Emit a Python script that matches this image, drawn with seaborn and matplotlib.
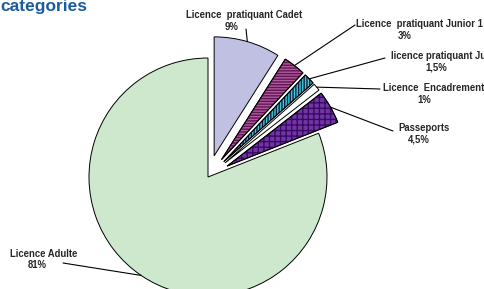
import numpy as np
import matplotlib
matplotlib.use("Agg")
import matplotlib.pyplot as plt
import seaborn as sns
from matplotlib.patches import Wedge

sns.set_theme(style="white")
plt.rcParams["font.family"] = ["Liberation Sans", "DejaVu Sans"]
plt.rcParams["hatch.linewidth"] = 1.0

# parts des licences (%)
categories = [
    "Licence  pratiquant Cadet",
    "Licence  pratiquant Junior 1",
    "licence pratiquant Junior 2",
    "Licence  Encadrement",
    "Passeports",
    "Licence Adulte",
]
pct_labels = ["9%", "3%", "1,5%", "1%", "4,5%", "81%"]
values = [9, 3, 1.5, 1, 4.5, 81]

face_colors = ["#c0c0e2", "#b4589c", "#3fcad8", "#ffffff", "#7434a8", "#cde8cd"]
hatches = [None, "------", "||||||", None, "+++", None]
hatch_colors = [None, "#5e1654", "#102040", None, "#360c5e", None]

# label layout in pixels (x, y from top)
name_left = [186, 356, 391, 383, 398, 10]
name_y = [15, 24, 56, 88, 128, 254]
pct_x = [232, 405, 436, 424, 419, 37]
line_end = [(246, 29), (355, 25), (385, 58), (380, 89), (393, 131), (63, 263)]

W, H = 485, 289
fig = plt.figure(figsize=(W / 100, H / 100), dpi=100)
ax = fig.add_axes([0, 0, 1, 1])

explode = [22, 22, 22, 22, 22, 0]
wedges, _ = ax.pie(
    values,
    explode=explode,
    colors=face_colors,
    startangle=90,
    counterclock=False,
    center=(208, 112),
    radius=119,
    wedgeprops=dict(edgecolor="black", linewidth=0.7),
)

# hachures dessinées par-dessus, contour noir remis ensuite
for w, h, hc in zip(wedges, hatches, hatch_colors):
    if h is None:
        continue
    overlay = Wedge(w.center, w.r, w.theta1, w.theta2, facecolor="none",
                    edgecolor=hc, hatch=h, linewidth=0, zorder=w.get_zorder() + 0.1)
    ax.add_patch(overlay)
    outline = Wedge(w.center, w.r, w.theta1, w.theta2, facecolor="none",
                    edgecolor="black", linewidth=0.7, zorder=w.get_zorder() + 0.2)
    ax.add_patch(outline)

lbl = dict(fontsize=6.85, fontweight="bold", va="center", zorder=6)
for i, w in enumerate(wedges):
    mid = np.deg2rad(0.5 * (w.theta1 + w.theta2))
    cx, cy = w.center
    px, py = cx + w.r * np.cos(mid), cy + w.r * np.sin(mid)
    lx, ly = line_end[i]
    ax.plot([px, lx], [py, H - ly], color="black", linewidth=0.8, zorder=5)
    ax.text(name_left[i], H - name_y[i], categories[i], ha="left", **lbl)
    ax.text(pct_x[i], H - name_y[i] - 11.5, pct_labels[i], ha="center", **lbl)

ax.text(0, H - 10.5, "categories", ha="left", va="baseline", fontsize=12.5,
        fontweight="bold", color="#1d5c9c")

ax.set_xlim(0, W)
ax.set_ylim(0, H)
ax.set_aspect("equal")
ax.axis("off")

fig.savefig("out.png", dpi=100)
